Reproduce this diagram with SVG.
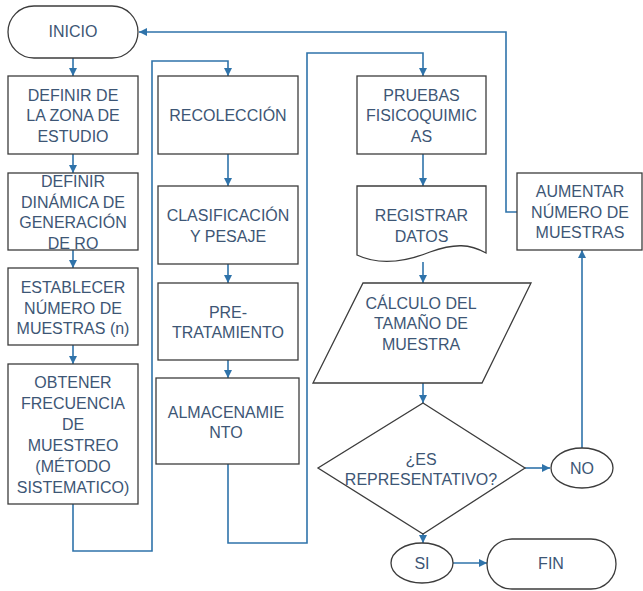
<svg xmlns="http://www.w3.org/2000/svg" width="643" height="591" viewBox="0 0 643 591">
<defs>
<marker id="ah" viewBox="0 0 10 10" refX="10" refY="5" markerWidth="8" markerHeight="8" markerUnits="userSpaceOnUse" orient="auto">
<path d="M0,0 L10,5 L0,10 Z" fill="#2f73aa"/>
</marker>
<style>
.n{fill:#fff;stroke:#3c3c3c;stroke-width:1.3}
.t{font-family:"Liberation Sans",Arial,sans-serif;font-size:16px;fill:#3d5675;text-anchor:middle}
.c{fill:none;stroke:#2f73aa;stroke-width:1.6}
.a{marker-end:url(#ah)}
</style>
</defs>
<rect width="643" height="591" fill="#fff"/>
<g id="connectors">
<path class="c a" d="M73,58 V76"/>
<path class="c a" d="M73,154 V173"/>
<path class="c a" d="M73,250 V268"/>
<path class="c a" d="M73,345 V364"/>
<path class="c a" d="M73,504 V551 H152 V61 H228 V76"/>
<path class="c a" d="M228,154 V186"/>
<path class="c a" d="M228,264 V283"/>
<path class="c a" d="M228,360 V378"/>
<path class="c a" d="M228,464 V543 H307 V53 H423 V76"/>
<path class="c a" d="M423,154 V186"/>
<path class="c a" d="M423,262 V283"/>
<path class="c a" d="M423,383 V403"/>
<path class="c a" d="M525,468 H550"/>
<path class="c a" d="M423,534 V543"/>
<path class="c a" d="M453,563 H487"/>
<path class="c a" d="M582,448 V250"/>
<path class="c a" d="M517,212 H506 V32 H139"/>
</g>
<g id="inicio"><rect class="n" x="8" y="6" width="130" height="52" rx="26"/><text class="t" x="73" y="37">INICIO</text></g>
<g id="definir-zona"><rect class="n" x="8" y="76" width="130" height="78"/><text class="t"><tspan x="73" y="101">DEFINIR DE</tspan><tspan x="73" y="121">LA ZONA DE</tspan><tspan x="73" y="142">ESTUDIO</tspan></text></g>
<g id="definir-dinamica"><rect class="n" x="8" y="173" width="130" height="77"/><text class="t"><tspan x="73" y="187">DEFINIR</tspan><tspan x="73" y="208">DINÁMICA DE</tspan><tspan x="73" y="228">GENERACIÓN</tspan><tspan x="73" y="249">DE RO</tspan></text></g>
<g id="establecer"><rect class="n" x="8" y="268" width="130" height="77"/><text class="t"><tspan x="73" y="293">ESTABLECER</tspan><tspan x="73" y="314">NÚMERO DE</tspan><tspan x="73" y="334">MUESTRAS (n)</tspan></text></g>
<g id="obtener"><rect class="n" x="8" y="364" width="130" height="140"/><text class="t"><tspan x="73" y="388">OBTENER</tspan><tspan x="73" y="409">FRECUENCIA</tspan><tspan x="73" y="430">DE</tspan><tspan x="73" y="451">MUESTREO</tspan><tspan x="73" y="472">(MÉTODO</tspan><tspan x="73" y="493">SISTEMATICO)</tspan></text></g>
<g id="recoleccion"><rect class="n" x="158" y="76" width="140" height="78"/><text class="t" x="228" y="121">RECOLECCIÓN</text></g>
<g id="clasificacion"><rect class="n" x="158" y="186" width="140" height="78"/><text class="t"><tspan x="228" y="221">CLASIFICACIÓN</tspan><tspan x="228" y="242">Y PESAJE</tspan></text></g>
<g id="pretratamiento"><rect class="n" x="158" y="283" width="140" height="77"/><text class="t"><tspan x="228" y="318">PRE-</tspan><tspan x="228" y="338">TRATAMIENTO</tspan></text></g>
<g id="almacenamiento"><rect class="n" x="156" y="378" width="143" height="86"/><text class="t"><tspan x="226" y="418">ALMACENAMIE</tspan><tspan x="226" y="438">NTO</tspan></text></g>
<g id="pruebas"><rect class="n" x="357" y="76" width="129" height="78"/><text class="t"><tspan x="421.5" y="101">PRUEBAS</tspan><tspan x="421.5" y="121">FISICOQUIMIC</tspan><tspan x="421.5" y="142">AS</tspan></text></g>
<g id="registrar"><path class="n" d="M357,186 H486 V253 C470,244 455,243 430,252 C405,262 380,266 357,255 Z"/><text class="t"><tspan x="421.5" y="221">REGISTRAR</tspan><tspan x="421.5" y="242">DATOS</tspan></text></g>
<g id="calculo"><path class="n" d="M363,283 H531 L482,383 H313 Z"/><text class="t"><tspan x="421" y="309">CÁLCULO DEL</tspan><tspan x="421" y="329">TAMAÑO DE</tspan><tspan x="421" y="350">MUESTRA</tspan></text></g>
<g id="decision"><path class="n" d="M423,403 L525,468 L423,534 L318,468 Z"/><text class="t"><tspan x="421" y="465">¿ES</tspan><tspan x="421" y="485">REPRESENTATIVO?</tspan></text></g>
<g id="no"><ellipse class="n" cx="582" cy="468" rx="31" ry="20"/><text class="t" x="582" y="474">NO</text></g>
<g id="aumentar"><rect class="n" x="517" y="173" width="125" height="77"/><text class="t"><tspan x="580" y="197">AUMENTAR</tspan><tspan x="580" y="218">NÚMERO DE</tspan><tspan x="580" y="238">MUESTRAS</tspan></text></g>
<g id="si"><ellipse class="n" cx="422" cy="563" rx="31" ry="20"/><text class="t" x="422" y="569">SI</text></g>
<g id="fin"><rect class="n" x="487" y="539" width="129" height="50" rx="25"/><text class="t" x="551" y="569">FIN</text></g>
</svg>
